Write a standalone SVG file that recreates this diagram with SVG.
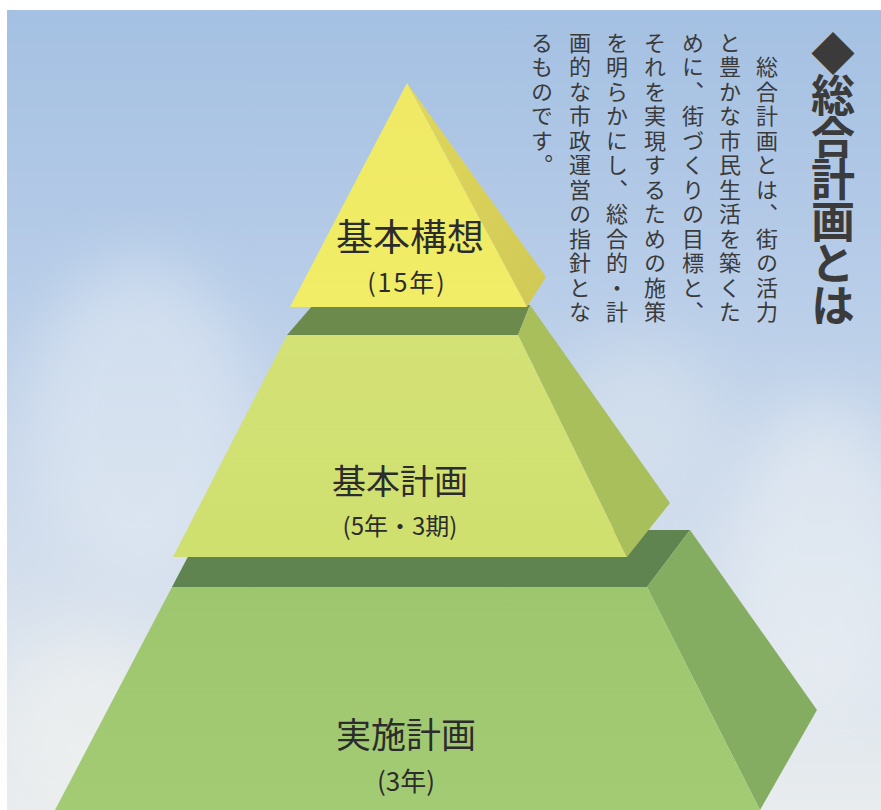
<svg xmlns="http://www.w3.org/2000/svg" width="881" height="810" viewBox="0 0 881 810">
<defs>
<linearGradient id="sky" x1="0" y1="0" x2="0" y2="1">
<stop offset="0" stop-color="#a4c0e2"/>
<stop offset="0.35" stop-color="#b8cde8"/>
<stop offset="0.65" stop-color="#d0dcec"/>
<stop offset="1" stop-color="#e8ecee"/>
</linearGradient>
<filter id="blur" x="-50%" y="-50%" width="200%" height="200%"><feGaussianBlur stdDeviation="30"/></filter>
<linearGradient id="ySide" x1="0" y1="0" x2="1" y2="1">
<stop offset="0" stop-color="#e0d75a"/>
<stop offset="1" stop-color="#d0c957"/>
</linearGradient>
<linearGradient id="yFront" x1="0" y1="0" x2="0" y2="1">
<stop offset="0" stop-color="#efe965"/>
<stop offset="1" stop-color="#f1ed66"/>
</linearGradient>
<linearGradient id="t2Front" x1="0" y1="0" x2="0" y2="1">
<stop offset="0" stop-color="#d3e175"/>
<stop offset="1" stop-color="#cfe06f"/>
</linearGradient>
<linearGradient id="t3Front" x1="0" y1="0" x2="0" y2="1">
<stop offset="0" stop-color="#9ec66f"/>
<stop offset="1" stop-color="#a3cb74"/>
</linearGradient>
<style>
.lbl{font-family:"Noto Sans CJK JP","Noto Sans",sans-serif;fill:#2c2c2c;text-anchor:middle;font-weight:400}
.body{font-family:"Noto Sans CJK JP",sans-serif;fill:#3a3a3a;font-size:22px;letter-spacing:2.5px;writing-mode:vertical-rl}
.title{font-family:"Noto Sans CJK JP",sans-serif;fill:#3b3b3b;font-size:44px;font-weight:700;letter-spacing:-2px;writing-mode:vertical-rl}
</style>
</defs>
<rect width="881" height="810" fill="#ffffff"/>
<rect x="7" y="10" width="874" height="800" fill="url(#sky)"/>
<g filter="url(#blur)" opacity="0.5">
<ellipse cx="140" cy="420" rx="110" ry="160" fill="#e6edf4"/>
<ellipse cx="820" cy="560" rx="90" ry="160" fill="#eef2f4"/>
<ellipse cx="90" cy="720" rx="90" ry="90" fill="#f4f4f0"/>
<ellipse cx="640" cy="420" rx="80" ry="80" fill="#dde6ee"/>
</g>

<g id="tier3">
<polygon points="202,530 690,530 647,587 172,587" fill="#5f8450"/>
<polygon points="690,530 817,710 760,810 647,587" fill="#85ad62"/>
<polygon points="172,587 647,587 760,810 55,810" fill="url(#t3Front)"/>
<text class="lbl" x="406" y="748" font-size="35">実施計画</text>
<text class="lbl" x="406" y="791" font-size="26">(3年)</text>
</g>

<g id="tier2">
<polygon points="313,305 530,305 518,335 287,335" fill="#6c8a4c"/>
<polygon points="530,305 670,503 627,557 518,335" fill="#a9bf5c"/>
<polygon points="287,335 518,335 627,557 173,557" fill="url(#t2Front)"/>
<text class="lbl" x="400" y="494" font-size="34">基本計画</text>
<text class="lbl" x="400" y="535" font-size="24">(5年・3期)</text>
</g>

<g id="tier1">
<polygon points="407,83 546,277 527,307" fill="url(#ySide)"/>
<polygon points="407,83 527,307 290,307" fill="url(#yFront)"/>
<text class="lbl" x="410" y="251" font-size="37">基本構想</text>
<text class="lbl" x="407" y="292" font-size="25" letter-spacing="2">(15年)</text>
</g>

<g id="description">
<text class="title" x="833" y="31">◆総合計画とは</text>
<text class="body" x="767" y="56">総合計画とは、街の活力</text>
<text class="body" x="730" y="31.5">と豊かな市民生活を築くた</text>
<text class="body" x="693" y="31.5">めに、街づくりの目標と、</text>
<text class="body" x="655" y="31.5">それを実現するための施策</text>
<text class="body" x="617" y="31.5">を明らかにし、総合的・計</text>
<text class="body" x="580" y="31.5">画的な市政運営の指針とな</text>
<text class="body" x="542" y="31.5">るものです。</text>
</g>
</svg>
